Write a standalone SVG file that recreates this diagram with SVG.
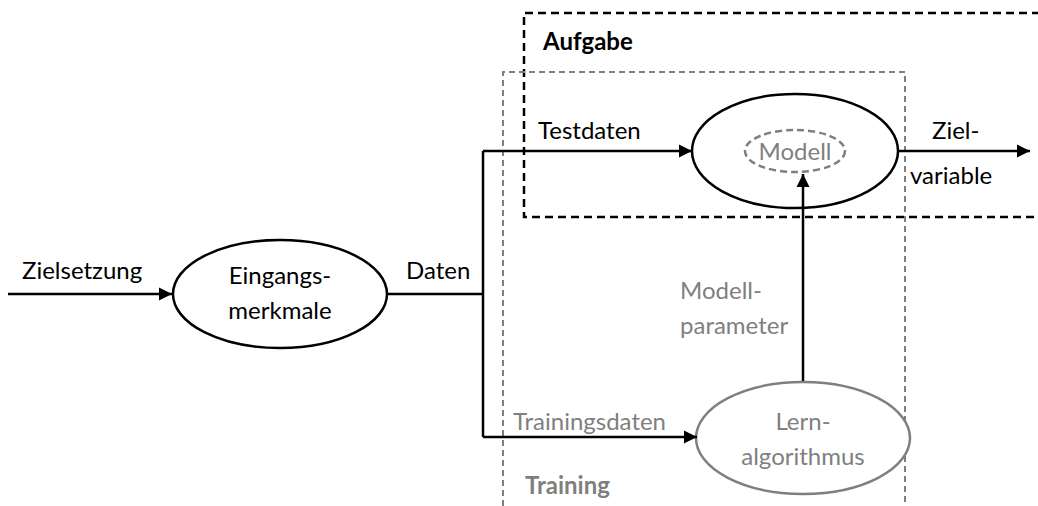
<svg xmlns="http://www.w3.org/2000/svg" width="1038" height="506" viewBox="0 0 1038 506">
  <defs>
    <style>
      text { font-family: Lato, "Open Sans", "Liberation Sans", sans-serif; font-size: 24px; fill: #000; }
      .grey { fill: #7f7f7f; }
      .mid { text-anchor: middle; }
      .bold { font-weight: bold; }
      .flow { stroke: #000; stroke-width: 2.5; fill: none; }
      .node { stroke: #000; stroke-width: 2.5; fill: #fff; }
      .node-grey { stroke: #7f7f7f; stroke-width: 2.5; fill: #fff; }
    </style>
    <marker id="arrow" viewBox="0 0 10 10" refX="10" refY="5" markerWidth="15" markerHeight="13" markerUnits="userSpaceOnUse" orient="auto" overflow="visible">
      <path d="M0,0 L10,5 L0,10 Z" fill="#000"/>
    </marker>
  </defs>

  <!-- Scope frames -->
  <g id="frame-aufgabe">
    <path d="M1040,13 H524 V217 H1040" fill="none" stroke="#000" stroke-width="2.5" stroke-dasharray="8,5"/>
    <text x="543" y="50" class="bold">Aufgabe</text>
  </g>
  <g id="frame-training">
    <path d="M503,506 V72 H905 V506" fill="none" stroke="#7f7f7f" stroke-width="2" stroke-dasharray="6,4"/>
    <text x="525" y="494" class="bold grey">Training</text>
  </g>

  <!-- Nodes -->
  <g id="node-eingangsmerkmale">
    <ellipse cx="280" cy="294" rx="107" ry="54" class="node"/>
    <text x="280" y="284" class="mid">Eingangs-</text>
    <text x="280" y="319" class="mid">merkmale</text>
  </g>
  <g id="node-modell">
    <ellipse cx="795" cy="151" rx="103" ry="57" class="node"/>
    <ellipse cx="795" cy="151" rx="50" ry="21" fill="none" stroke="#7f7f7f" stroke-width="2.5" stroke-dasharray="7,4"/>
    <text x="795" y="160" class="mid grey">Modell</text>
  </g>
  <g id="node-lernalgorithmus">
    <ellipse cx="803" cy="438" rx="107" ry="56" class="node-grey"/>
    <text x="803" y="430" class="mid grey">Lern-</text>
    <text x="803" y="465" class="mid grey">algorithmus</text>
  </g>

  <!-- Connectors -->
  <g id="connectors">
    <line x1="8" y1="294" x2="172" y2="294" class="flow" marker-end="url(#arrow)"/>
    <polyline points="388,294 483,294" class="flow"/>
    <polyline points="483,151 483,437" class="flow"/>
    <polyline points="483,151 692,151" class="flow" marker-end="url(#arrow)"/>
    <polyline points="483,437 697,437" class="flow" marker-end="url(#arrow)"/>
    <line x1="803" y1="381" x2="803" y2="174" class="flow" marker-end="url(#arrow)"/>
    <line x1="898" y1="151" x2="1030" y2="151" class="flow" marker-end="url(#arrow)"/>
    <text x="22" y="279">Zielsetzung</text>
    <text x="406" y="279">Daten</text>
    <text x="538" y="139">Testdaten</text>
    <text x="513" y="430" class="grey">Trainingsdaten</text>
    <text x="680" y="299" class="grey">Modell-</text>
    <text x="680" y="334" class="grey">parameter</text>
    <text x="932" y="139">Ziel-</text>
    <text x="910" y="184">variable</text>
  </g>
</svg>
